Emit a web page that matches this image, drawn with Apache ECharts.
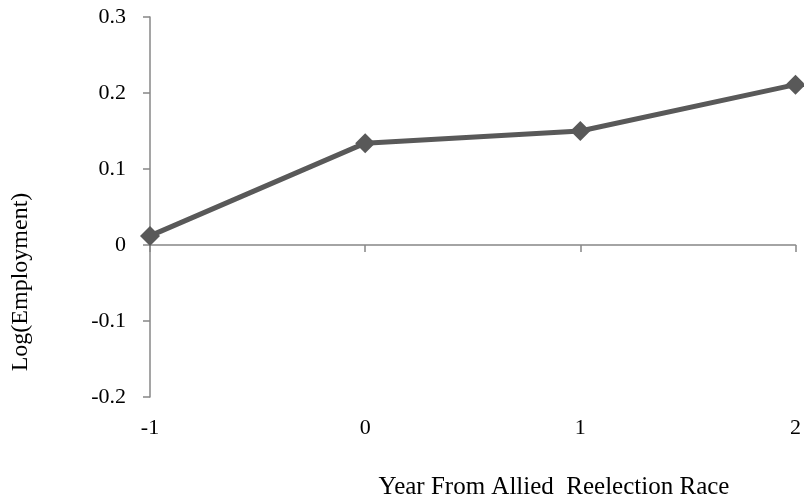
<!DOCTYPE html>
<html>
<head>
<meta charset="utf-8">
<script src="https://cdn.jsdelivr.net/npm/echarts@6/dist/echarts.min.js"></script>
<style>
html,body{margin:0;padding:0;background:#fff;}
#chart{width:804px;height:502px;}
</style>
</head>
<body>
<div id="chart"></div>
<script>
const categories = ['-1', '0', '1', '2'];
const logEmployment = [0.012, 0.134, 0.150, 0.211];
const yTitle = 'Log(Employment)';
const xTitle = 'Year From Allied  Reelection Race';

const FONT = "'Liberation Serif', 'Times New Roman', serif";
const AXIS_COLOR = '#878787';
const LINE_COLOR = '#595959';

const chart = echarts.init(document.getElementById('chart'), null, {renderer: 'canvas'});
chart.setOption({
  animation: false,
  backgroundColor: '#ffffff',
  grid: {left: 150, right: 8, top: 17, bottom: 105, containLabel: false},
  xAxis: [
    {
      type: 'category',
      data: categories,
      boundaryGap: false,
      axisLine: {onZero: true, lineStyle: {color: AXIS_COLOR, width: 1.5}},
      axisTick: {show: true, inside: false, length: 7, lineStyle: {color: AXIS_COLOR, width: 1.5}},
      axisLabel: {show: false},
      splitLine: {show: false}
    },
    {
      type: 'category',
      data: categories,
      boundaryGap: false,
      position: 'bottom',
      axisLine: {show: false, onZero: false},
      axisTick: {show: false},
      axisLabel: {show: true, color: '#000', fontFamily: FONT, fontSize: 22, margin: 20},
      splitLine: {show: false}
    }
  ],
  yAxis: {
    type: 'value',
    min: -0.2,
    max: 0.3,
    interval: 0.1,
    axisLine: {show: true, lineStyle: {color: AXIS_COLOR, width: 1.5}},
    axisTick: {show: true, length: 7, lineStyle: {color: AXIS_COLOR, width: 1.5}},
    axisLabel: {
      color: '#000', fontFamily: FONT, fontSize: 22, margin: 24,
      formatter: v => String(Math.round(v * 10) / 10)
    },
    splitLine: {show: false}
  },
  series: [{
    type: 'line',
    xAxisIndex: 0,
    data: logEmployment,
    symbol: 'diamond',
    symbolSize: 20,
    lineStyle: {color: LINE_COLOR, width: 5},
    itemStyle: {color: LINE_COLOR},
    z: 5
  }],
  graphic: [
    {
      type: 'text',
      x: 21, y: 282,
      rotation: Math.PI / 2,
      style: {
        text: yTitle, fill: '#000', font: '24px ' + FONT,
        align: 'center', verticalAlign: 'middle'
      }
    },
    {
      type: 'text',
      x: 554, y: 487,
      style: {
        text: xTitle, fill: '#000', font: '25px ' + FONT,
        align: 'center', verticalAlign: 'middle'
      }
    }
  ]
});
</script>
</body>
</html>
